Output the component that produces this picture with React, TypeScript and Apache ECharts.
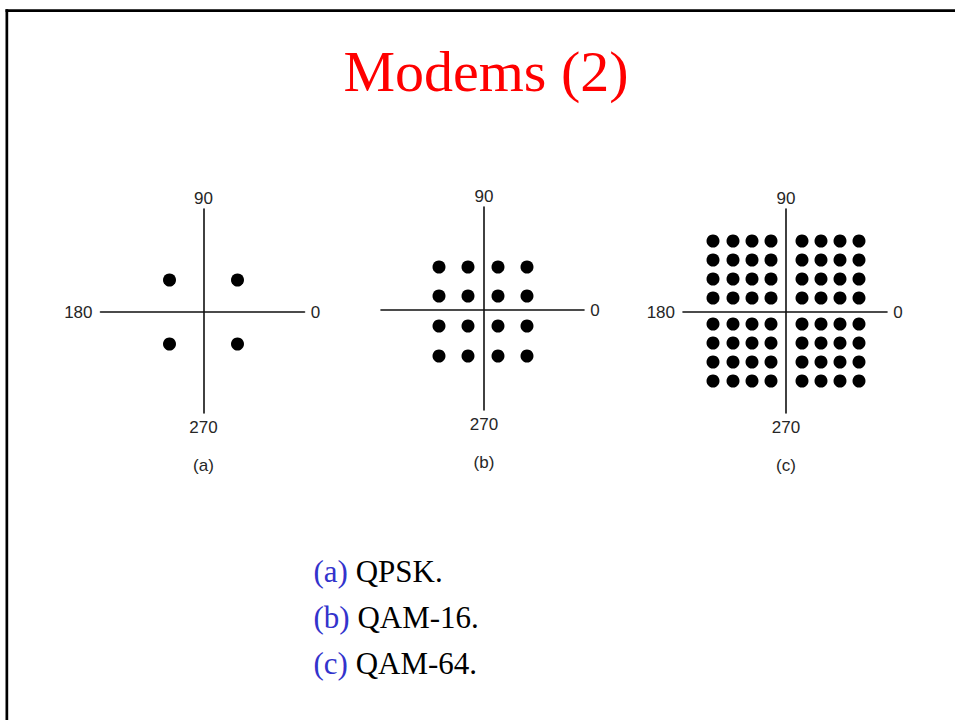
import React, { useEffect, useRef } from "react";
import * as echarts from "echarts";

// ---- data (units ≈ pixels from each origin) ----
const titleText = "Modems (2)";
const qpskX = [-34, 34];
const qpskY = [32, -32];
const qam16X = [-45, -16, 14, 43];
const qam16Y = [43, 14, -16, -46];
const qam64X = [-73, -53, -34, -15, 16, 35, 54, 73];
const qam64Y = [71, 52, 33, 14, -12, -31, -50, -69];
const panelLetters = ["(a)", "(b)", "(c)"];
const captionNames = ["QPSK.", "QAM-16.", "QAM-64."];
const labelTop = "90";
const labelLeft = "180";
const labelRight = "0";
const labelBottom = "270";
const showLeftLabel = [true, false, true];

// ---- layout ----
const panels = [
  { xs: qpskX, ys: qpskY, left: 100.5, top: 209, width: 204, height: 204, xMin: -103, xMax: 101, yMin: -101, yMax: 103 },
  { xs: qam16X, ys: qam16Y, left: 381, top: 207, width: 203, height: 203, xMin: -103, xMax: 100, yMin: -100, yMax: 103 },
  { xs: qam64X, ys: qam64Y, left: 683, top: 209, width: 204, height: 204, xMin: -103, xMax: 101, yMin: -101, yMax: 103 },
];

function pointsOf(xs: number[], ys: number[]) {
  const pts: number[][] = [];
  ys.forEach((y) => xs.forEach((x) => pts.push([x, y])));
  return pts;
}

export default function App() {
  const ref = useRef<HTMLDivElement>(null);
  useEffect(() => {
    if (!ref.current) return;
    const chart = echarts.init(ref.current, null, { renderer: "svg" });
    const sans = "'Liberation Sans', Arial, Helvetica, sans-serif";
    const serif = "'Liberation Serif', 'Times New Roman', serif";
    const labelStyle = { fontFamily: sans, fontSize: 17, fill: "#262626" };

    const graphics: any[] = [
      { type: "rect", shape: { x: 5.5, y: 9.3, width: 950, height: 2.7 }, style: { fill: "#000" } },
      { type: "rect", shape: { x: 5.5, y: 9.3, width: 2.7, height: 711 }, style: { fill: "#000" } },
      {
        type: "text",
        x: 486,
        y: 71,
        style: { text: titleText, fontFamily: serif, fontSize: 58, fill: "#ff0000", align: "center", verticalAlign: "middle" },
      },
    ];

    panels.forEach((p, i) => {
      const cx = p.left + ((0 - p.xMin) / (p.xMax - p.xMin)) * p.width;
      const cy = p.top + ((p.yMax - 0) / (p.yMax - p.yMin)) * p.height;
      const bottom = p.top + p.height;
      const right = p.left + p.width;
      graphics.push({ type: "text", x: cx, y: p.top - 10.5, style: { ...labelStyle, text: labelTop, align: "center", verticalAlign: "middle" } });
      graphics.push({ type: "text", x: cx, y: bottom + 14, style: { ...labelStyle, text: labelBottom, align: "center", verticalAlign: "middle" } });
      graphics.push({ type: "text", x: right + 11, y: cy, style: { ...labelStyle, text: labelRight, align: "center", verticalAlign: "middle" } });
      if (showLeftLabel[i]) {
        graphics.push({ type: "text", x: p.left - 8, y: cy, style: { ...labelStyle, text: labelLeft, align: "right", verticalAlign: "middle" } });
      }
      graphics.push({ type: "text", x: cx, y: bottom + 52, style: { ...labelStyle, text: panelLetters[i], align: "center", verticalAlign: "middle" } });
    });

    captionNames.forEach((name, i) => {
      graphics.push({
        type: "text",
        x: 313.5,
        y: 571.5 + i * 46,
        style: {
          text: `{l|${panelLetters[i]}} {n|${name}}`,
          fontFamily: serif,
          fontSize: 31,
          align: "left",
          verticalAlign: "middle",
          rich: {
            l: { fontFamily: serif, fontSize: 31, fill: "#3333cc" },
            n: { fontFamily: serif, fontSize: 31, fill: "#000000" },
          },
        },
      });
    });

    chart.setOption({
      animation: false,
      backgroundColor: "#ffffff",
      grid: panels.map((p) => ({ left: p.left, top: p.top, width: p.width, height: p.height, containLabel: false })),
      xAxis: panels.map((p, i) => ({
        type: "value",
        gridIndex: i,
        min: p.xMin,
        max: p.xMax,
        axisLine: { show: true, onZero: true, lineStyle: { color: "#111", width: 1.6 } },
        axisTick: { show: false },
        axisLabel: { show: false },
        splitLine: { show: false },
      })),
      yAxis: panels.map((p, i) => ({
        type: "value",
        gridIndex: i,
        min: p.yMin,
        max: p.yMax,
        axisLine: { show: true, onZero: true, lineStyle: { color: "#111", width: 1.6 } },
        axisTick: { show: false },
        axisLabel: { show: false },
        splitLine: { show: false },
      })),
      series: panels.map((p, i) => ({
        type: "scatter",
        xAxisIndex: i,
        yAxisIndex: i,
        symbol: "circle",
        symbolSize: 13,
        itemStyle: { color: "#000", opacity: 1 },
        silent: true,
        data: pointsOf(p.xs, p.ys),
      })),
      graphic: graphics,
    });
    return () => chart.dispose();
  }, []);
  return (
    <div
      ref={ref}
      style={{ position: "fixed", left: 0, top: 0, width: 955, height: 720, background: "#fff" }}
    />
  );
}
